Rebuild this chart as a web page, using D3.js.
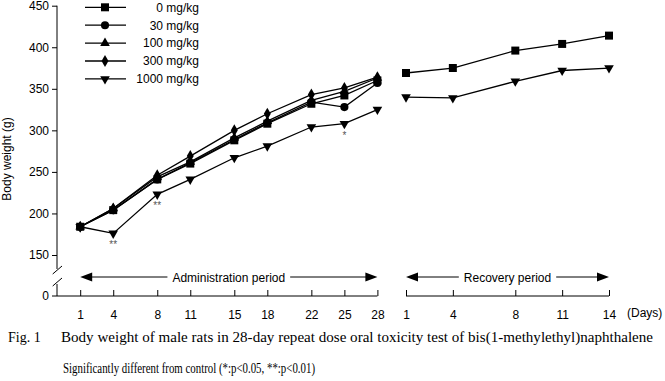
<!DOCTYPE html>
<html>
<head>
<meta charset="utf-8">
<script src="https://cdn.jsdelivr.net/npm/d3@7"></script>
<style>
  body { margin: 0; background: #fff; }
  svg { display: block; }
  text { font-family: "Liberation Sans", Arial, sans-serif; }
</style>
</head>
<body>
<div id="chart"></div>
<script>
// data
const adminDays = [1, 4, 8, 11, 15, 18, 22, 25, 28];
const recovDays = [1, 4, 8, 11, 14];
const dose0 = [184, 204, 241, 260, 288, 308, 332, 342, 360];
const dose30 = [184, 204, 241, 261, 289, 309, 334, 328, 357];
const dose100 = [184, 206, 244, 262, 291, 311, 336, 347, 363];
const dose300 = [184, 206, 246, 269, 300, 320, 343, 351, 364];
const dose1000 = [184, 176, 223, 241, 267, 281, 304, 308, 325];
const recov0 = [369, 375, 396, 404, 414];
const recov1000 = [340, 339, 359, 372, 375];
const legendLabels = ["0 mg/kg", "30 mg/kg", "100 mg/kg", "300 mg/kg", "1000 mg/kg"];
const yTicks = [150, 200, 250, 300, 350, 400, 450];
// significance marks: [day, value, label]
const signif = [[4, 176, "**"], [8, 223, "**"], [25, 308, "*"]];

const width = 665, height = 381;
const svg = d3.select("#chart").append("svg")
  .attr("width", width).attr("height", height);

const y = d3.scaleLinear().domain([150, 450]).range([255, 5.7]);
const xA = d3.scaleLinear().domain([1, 28]).range([80.2, 377.4]);
const xR = d3.scaleLinear().domain([1, 14]).range([406, 609]);
const axisX = 57, baseY = 296;

const shapes = [
  {sym: d3.symbolSquare, size: 64, rot: 0},
  {sym: d3.symbolCircle, size: 52, rot: 0},
  {sym: d3.symbolTriangle, size: 40, rot: 0},
  {sym: d3.symbolDiamond, size: 42, rot: 0},
  {sym: d3.symbolTriangle, size: 40, rot: 180}
];

// y axis
const yAxis = svg.append("g")
  .attr("transform", `translate(${axisX},0)`)
  .call(d3.axisLeft(y).tickValues(yTicks).tickSize(5).tickSizeOuter(0).tickPadding(3));
yAxis.select(".domain").remove();
yAxis.selectAll("text").attr("font-size", 12).attr("fill", "#000")
  .style("font-family", "Liberation Sans, Arial, sans-serif");
yAxis.selectAll("line").attr("stroke", "#000");

svg.append("line").attr("x1", axisX).attr("x2", axisX).attr("y1", y(450)).attr("y2", 269)
  .attr("stroke", "#000");
svg.append("line").attr("x1", axisX).attr("x2", axisX).attr("y1", 284).attr("y2", baseY)
  .attr("stroke", "#000");
// break marks
[[52.7, 274, 62, 266], [52.7, 286, 62, 278]].forEach(b => {
  svg.append("line").attr("x1", b[0]).attr("y1", b[1]).attr("x2", b[2]).attr("y2", b[3])
    .attr("stroke", "#000");
});
svg.append("line").attr("x1", axisX - 5).attr("x2", axisX).attr("y1", baseY).attr("y2", baseY)
  .attr("stroke", "#000");
svg.append("text").attr("x", axisX - 8).attr("y", baseY + 4).attr("text-anchor", "end")
  .attr("font-size", 12).text("0");

svg.append("text")
  .attr("transform", "translate(11,159) rotate(-90)")
  .attr("text-anchor", "middle").attr("font-size", 12)
  .text("Body weight (g)");

// x axes (ticks pointing up)
svg.append("line").attr("x1", axisX).attr("x2", xA(28)).attr("y1", baseY).attr("y2", baseY)
  .attr("stroke", "#000");
const gA = svg.append("g").attr("transform", `translate(0,${baseY})`)
  .call(d3.axisBottom(xA).tickValues(adminDays).tickSize(-6).tickSizeOuter(0).tickPadding(14));
const gR = svg.append("g").attr("transform", `translate(0,${baseY})`)
  .call(d3.axisBottom(xR).tickValues(recovDays).tickSize(-6).tickSizeOuter(0).tickPadding(14));
[gA, gR].forEach(g => {
  g.select(".domain").remove();
  g.selectAll("line").attr("stroke", "#000");
  g.selectAll("text").attr("font-size", 12).attr("fill", "#000")
    .style("font-family", "Liberation Sans, Arial, sans-serif");
});
svg.append("line").attr("x1", xR(1)).attr("x2", xR(14)).attr("y1", baseY).attr("y2", baseY)
  .attr("stroke", "#000");
svg.append("text").attr("x", 627).attr("y", 317).attr("font-size", 12).text("(Days)");

// period arrows
function period(x0, x1, label) {
  const ay = 277, cx = (x0 + x1) / 2;
  const t = svg.append("text").attr("x", cx).attr("y", ay + 4.5)
    .attr("text-anchor", "middle").attr("font-size", 12).text(label);
  const w = t.node().getComputedTextLength();
  svg.append("line").attr("x1", x0 + 10).attr("x2", cx - w / 2 - 5).attr("y1", ay).attr("y2", ay)
    .attr("stroke", "#000");
  svg.append("line").attr("x1", cx + w / 2 + 5).attr("x2", x1 - 10).attr("y1", ay).attr("y2", ay)
    .attr("stroke", "#000");
  svg.append("path").attr("d", `M${x0},${ay}L${x0 + 12},${ay - 4.5}L${x0 + 12},${ay + 4.5}Z`);
  svg.append("path").attr("d", `M${x1},${ay}L${x1 - 12},${ay - 4.5}L${x1 - 12},${ay + 4.5}Z`);
}
period(xA(1), xA(28), "Administration period");
period(xR(1), xR(14), "Recovery period");

// series
const line = (xs) => d3.line().x(d => xs(d[0])).y(d => y(d[1]));
function series(days, vals, xs, shape) {
  const pts = days.map((d, i) => [d, vals[i]]);
  svg.append("path").datum(pts).attr("d", line(xs))
    .attr("fill", "none").attr("stroke", "#000").attr("stroke-width", 1.3);
  svg.append("g").selectAll("path").data(pts).join("path")
    .attr("d", d3.symbol(shape.sym, shape.size))
    .attr("transform", d => `translate(${xs(d[0])},${y(d[1])}) rotate(${shape.rot})`)
    .attr("fill", "#000");
}
const adminSeries = [dose0, dose30, dose100, dose300, dose1000];
adminSeries.forEach((vals, i) => series(adminDays, vals, xA, shapes[i]));
series(recovDays, recov0, xR, shapes[0]);
series(recovDays, recov1000, xR, shapes[4]);

signif.forEach(s => {
  svg.append("text").attr("x", xA(s[0])).attr("y", y(s[1]) + 15)
    .attr("text-anchor", "middle").attr("font-size", 10).attr("fill", "#555")
    .text(s[2]);
});

// legend
const lg = svg.append("g");
legendLabels.forEach((lab, i) => {
  const ly = 7.3 + i * 17.9;
  lg.append("line").attr("x1", 85).attr("x2", 126).attr("y1", ly).attr("y2", ly)
    .attr("stroke", "#000").attr("stroke-width", 1.3);
  lg.append("path").attr("d", d3.symbol(shapes[i].sym, shapes[i].size))
    .attr("transform", `translate(105,${ly}) rotate(${shapes[i].rot})`);
  lg.append("text").attr("x", 199).attr("y", ly + 4.3).attr("text-anchor", "end")
    .attr("font-size", 12).text(lab);
});

// caption
const serif = "'Liberation Serif', 'DejaVu Serif', serif";
svg.append("text").attr("x", 8).attr("y", 342).attr("font-size", 14)
  .style("font-family", serif).text("Fig. 1");
svg.append("text").attr("x", 61).attr("y", 342).attr("font-size", 14)
  .style("font-family", serif)
  .attr("textLength", 592).attr("lengthAdjust", "spacingAndGlyphs")
  .text("Body weight of male rats in 28-day repeat dose oral toxicity test of bis(1-methylethyl)naphthalene");
svg.append("text").attr("x", 63).attr("y", 373).attr("font-size", 14)
  .style("font-family", serif)
  .attr("textLength", 252).attr("lengthAdjust", "spacingAndGlyphs")
  .text("Significantly different from control (*:p<0.05, **:p<0.01)");
</script>
</body>
</html>
